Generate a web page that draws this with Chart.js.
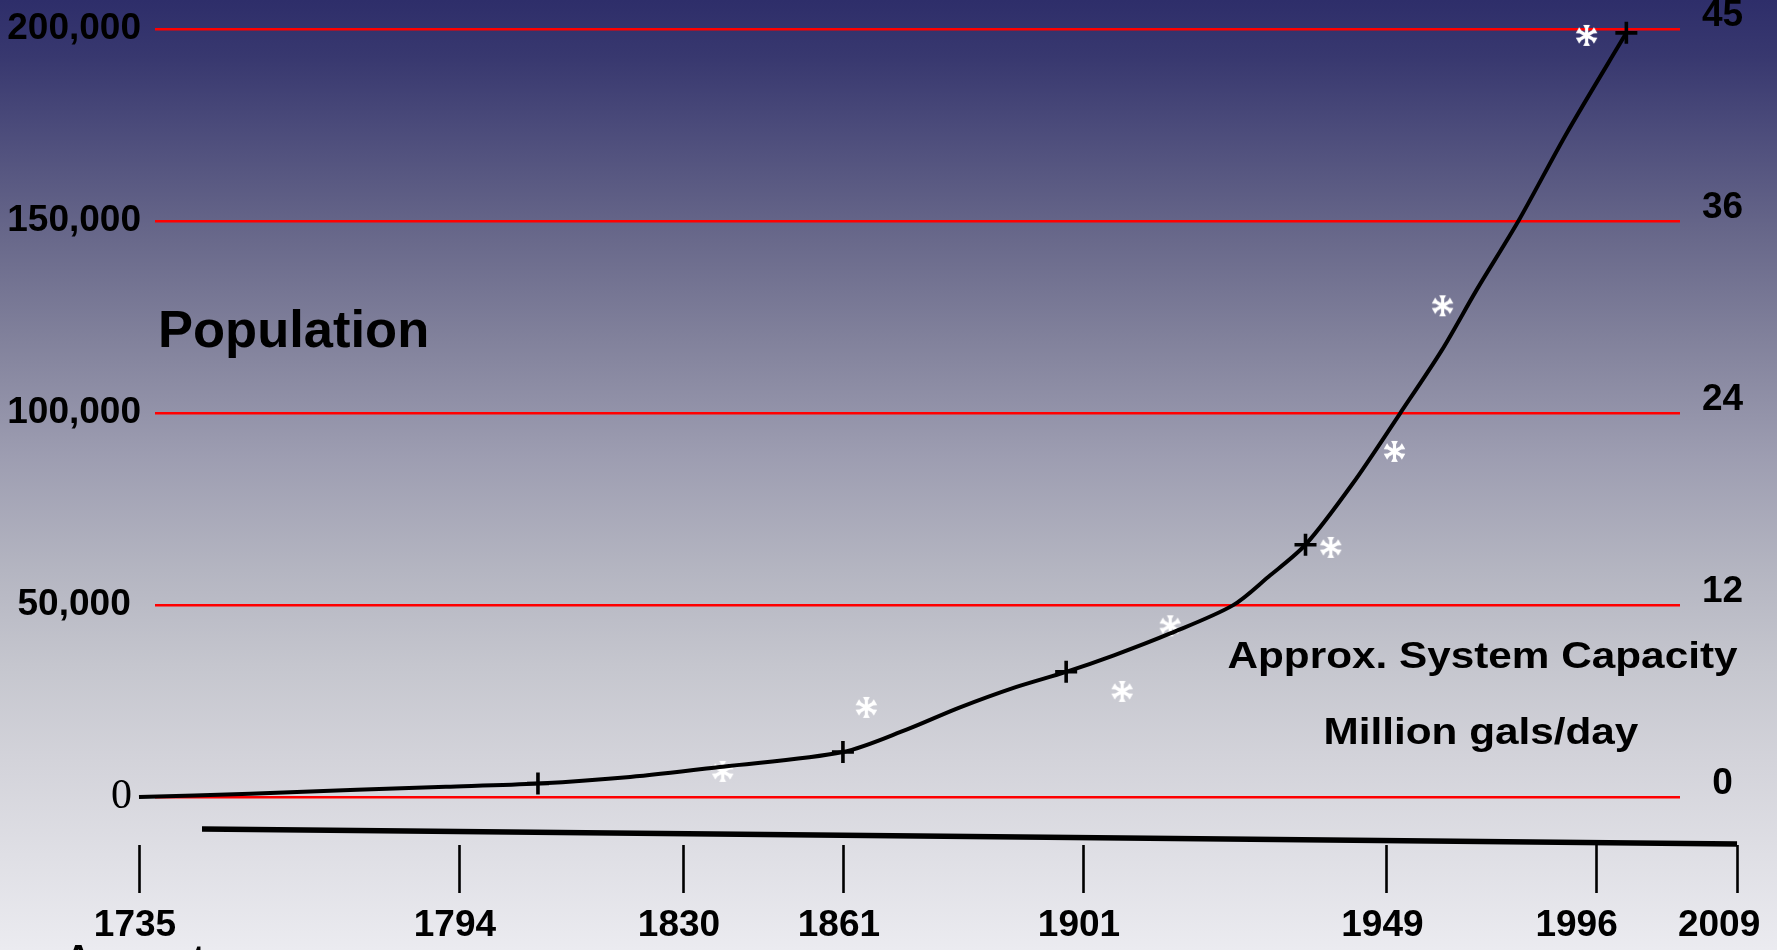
<!DOCTYPE html>
<html><head><meta charset="utf-8">
<script src="https://cdn.jsdelivr.net/npm/chart.js@4.4.1/dist/chart.umd.min.js"></script>
<style>html,body{margin:0;padding:0;background:#e9e9ee;overflow:hidden}canvas{display:block}</style>
</head><body>
<canvas id="c" width="1777" height="950"></canvas>
<script>
// ---------------- data ----------------
const yearTicks = [1735, 1794, 1830, 1861, 1901, 1949, 1996, 2009];
const populationTicks = [0, 50000, 100000, 150000, 200000];
const capacityTicks = [0, 12, 24, 36, 45];

// smooth population curve
const curveYears = [1735, 1755.5, 1775.2, 1791.6, 1806.7, 1821.5, 1837.7, 1861, 1871.7, 1880.3, 1889.8, 1898.2, 1905.9, 1914.8, 1924.7, 1930.3, 1936.2, 1943.7, 1952.0, 1961.4, 1969.2, 1978.6, 1989.4, 1998.8];
const curvePopulation = [0, 850, 1900, 2650, 3500, 5200, 7900, 11700, 17600, 23200, 28600, 32600, 36900, 42600, 49900, 57300, 65700, 81700, 99800, 116300, 132000, 150000, 172800, 199000];

// "+" markers: population
const censusYears = [1806.7, 1861, 1898.2, 1936.2, 1998.8];
const censusPopulation = [3500, 11700, 32600, 65700, 199000];

// "*" markers: approx. system capacity (million gals/day)
const capacityYears = [1837.7, 1864.9, 1907.2, 1914.8, 1940.2, 1950.8, 1961.6, 1993.9];
const capacityMgd = [1.6, 5.6, 6.6, 10.7, 15.6, 21.6, 30.7, 44.7];

// ---------------- layout (axis geometry, not data) ----------------
const xTickSpacing = [-0.0105, 0.1993, 0.3462, 0.4511, 0.6085, 0.8075, 0.9449, 1.0374]; // irregular hand-drawn year axis
const populationFloor = -12500;
const populationTop = 200000;
const SANS = '"Liberation Sans", Arial, Helvetica, sans-serif';
const SERIF = '"Liberation Serif", "Times New Roman", serif';

// ---------------- piecewise-linear scale ----------------
const knots = {
  x: { values: yearTicks, decimals: xTickSpacing },
  y2: { values: capacityTicks,
        decimals: populationTicks.map(v => (v - populationFloor) / (populationTop - populationFloor)) }
};
class PiecewiseScale extends Chart.LinearScale {
  static id = 'piecewise';
  _dec(v) {
    const k = knots[this.id], vs = k.values, ds = k.decimals, n = vs.length;
    let i = 0;
    if (v >= vs[n - 1]) i = n - 2; else while (i < n - 2 && v > vs[i + 1]) i++;
    const t = (v - vs[i]) / (vs[i + 1] - vs[i]);
    return ds[i] + t * (ds[i + 1] - ds[i]);
  }
  getPixelForValue(v) {
    if (v === null || v === undefined || Number.isNaN(+v)) return NaN;
    return this.getPixelForDecimal(this._dec(+v));
  }
  getValueForPixel(p) {
    const d = this.getDecimalForPixel(p);
    const k = knots[this.id], vs = k.values, ds = k.decimals, n = vs.length;
    let i = 0;
    if (d >= ds[n - 1]) i = n - 2; else while (i < n - 2 && d > ds[i + 1]) i++;
    return vs[i] + (d - ds[i]) / (ds[i + 1] - ds[i]) * (vs[i + 1] - vs[i]);
  }
}
Chart.register(PiecewiseScale);

// asterisk point style
function makeAsterisk(r) {
  const s = Math.ceil(r * 2 + 8);
  const cv = document.createElement('canvas'); cv.width = s; cv.height = s;
  const c = cv.getContext('2d');
  c.translate(s / 2, s / 2);
  c.fillStyle = '#ffffff';
  [90, 30, 150, 270, 210, 330].forEach(a => {
    const rad = a * Math.PI / 180;
    const dx = Math.cos(rad), dy = -Math.sin(rad), px = -dy, py = dx;
    const tx = dx * r, ty = dy * r;
    c.beginPath();
    c.moveTo(px * 1.6, py * 1.6);
    c.lineTo(tx - dx * 3.5 + px * 1.6, ty - dy * 3.5 + py * 1.6);
    c.lineTo(tx + px * 3.4, ty + py * 3.4);
    c.lineTo(tx - px * 3.4, ty - py * 3.4);
    c.lineTo(tx - dx * 3.5 - px * 1.6, ty - dy * 3.5 - py * 1.6);
    c.lineTo(-px * 1.6, -py * 1.6);
    c.closePath(); c.fill();
  });
  return cv;
}
const asterisk = makeAsterisk(10.5);

// ---------------- decorations ----------------
const decor = {
  id: 'decor',
  beforeDraw(chart) {
    const { ctx, width, height } = chart;
    const g = ctx.createLinearGradient(0, 0, 0, height);
    [[0, '#2e2e6a'], [0.06, '#38386f'], [0.13, '#4a4a7a'], [0.24, '#666689'], [0.36, '#82829c'],
     [0.48, '#9d9db1'], [0.6, '#b4b5c1'], [0.7, '#c5c6ce'], [0.8, '#d3d3da'], [0.9, '#dfdfe5'], [1, '#ebebf0']]
      .forEach(([o, c]) => g.addColorStop(o, c));
    ctx.save(); ctx.fillStyle = g; ctx.fillRect(0, 0, width, height); ctx.restore();
  },
  afterDraw(chart) {
    const { ctx, chartArea: a, scales: { x } } = chart;
    ctx.save();
    // slanted base line
    ctx.strokeStyle = '#000'; ctx.lineWidth = 5.5; ctx.lineCap = 'butt';
    ctx.beginPath();
    ctx.moveTo(a.left + 47, a.bottom - 16);
    ctx.lineTo(x.getPixelForTick(x.ticks.length - 1), a.bottom - 1);
    ctx.stroke();
    // tick marks
    ctx.lineWidth = 2.6;
    x.ticks.forEach((t, i) => {
      const px = Math.round(x.getPixelForTick(i)) + 0.5;
      ctx.beginPath(); ctx.moveTo(px, a.bottom); ctx.lineTo(px, a.bottom + 48); ctx.stroke();
    });
    // annotation texts
    ctx.fillStyle = '#000'; ctx.textBaseline = 'alphabetic'; ctx.textAlign = 'left';
    ctx.font = 'bold 52.5px ' + SANS;
    ctx.fillText('Population', 158, 346.7);
    ctx.font = 'bold 37px ' + SANS;
    ctx.save(); ctx.translate(1227.5, 668.3); ctx.scale(1.143, 1); ctx.fillText('Approx. System Capacity', 0, 0); ctx.restore();
    ctx.save(); ctx.translate(1323.5, 744); ctx.scale(1.143, 1); ctx.fillText('Million gals/day', 0, 0); ctx.restore();
    ctx.restore();
  }
};

const boldFont = { family: SANS, size: 37, weight: 'bold', lineHeight: '35px' };

new Chart(document.getElementById('c'), {
  type: 'line',
  data: {
    datasets: [
      {
        label: 'Population',
        data: curveYears.map((y, i) => ({ x: y, y: curvePopulation[i] })),
        borderColor: '#000', borderWidth: 4, pointRadius: 0,
        tension: 0.3, fill: false, clip: false,
        xAxisID: 'x', yAxisID: 'y'
      },
      {
        label: 'Population (points)',
        data: censusYears.map((y, i) => ({ x: y, y: censusPopulation[i] })),
        showLine: false, pointStyle: 'cross', pointRadius: 11, borderColor: '#000',
        pointBorderWidth: 3.6, borderWidth: 3.6, clip: false,
        xAxisID: 'x', yAxisID: 'y'
      },
      {
        label: 'Approx. System Capacity',
        data: capacityYears.map((y, i) => ({ x: y, y: capacityMgd[i] })),
        showLine: false, pointStyle: asterisk, pointRadius: 11, clip: false,
        xAxisID: 'x', yAxisID: 'y2'
      }
    ]
  },
  options: {
    responsive: false, animation: false, devicePixelRatio: 1, events: [],
    layout: { padding: { top: 29, left: 0, right: 0, bottom: 0 } },
    plugins: { legend: { display: false }, tooltip: { enabled: false } },
    scales: {
      x: {
        type: 'piecewise', position: 'bottom', min: yearTicks[0], max: yearTicks[yearTicks.length - 1],
        afterBuildTicks: s => { s.ticks = yearTicks.map(v => ({ value: v })); },
        afterFit: s => { s.height = 105; s.paddingLeft = 0; s.paddingRight = 0; },
        grid: { display: false, drawTicks: false }, border: { display: false },
        ticks: {
          autoSkip: false, maxRotation: 0, minRotation: 0, padding: 63.5, labelOffset: -4, color: '#000',
          font: boldFont,
          callback: v => {
            if (v === yearTicks[0]) return [String(v), 'Amount'];
            if (v === 1996) return String(v) + '   ';
            if (v === 2009) return String(v) + '  \u2009';
            return String(v);
          }
        }
      },
      y: {
        type: 'linear', position: 'left', min: populationFloor, max: populationTop,
        afterBuildTicks: s => { s.ticks = populationTicks.map(v => ({ value: v })); },
        afterFit: s => { s.width = 155; s.paddingTop = 0; s.paddingBottom = 0; },
        grid: { color: '#ff0000', lineWidth: 2.5, drawTicks: false }, border: { display: false },
        ticks: {
          autoSkip: false, padding: 14, crossAlign: 'center', color: '#000',
          font: c => (c.tick && c.tick.value === 0)
            ? { family: SERIF, size: 42, weight: 'normal' }
            : { family: SANS, size: 37, weight: 'bold' },
          callback: v => v === 0 ? '\u2003\u2003 0' : Number(v).toLocaleString('en-US')
        }
      },
      y2: {
        type: 'piecewise', position: 'right', min: -3.75, max: capacityTicks[capacityTicks.length - 1],
        afterBuildTicks: s => { s.ticks = capacityTicks.map(v => ({ value: v })); },
        afterFit: s => { s.width = 97; s.paddingTop = 0; s.paddingBottom = 0; },
        grid: { display: false, drawTicks: false }, border: { display: false },
        ticks: {
          autoSkip: false, padding: 22, crossAlign: 'center', labelOffset: -13, color: '#000',
          font: { family: SANS, size: 37, weight: 'bold' },
          callback: v => String(v)
        }
      }
    }
  },
  plugins: [decor]
});
</script>
</body></html>
